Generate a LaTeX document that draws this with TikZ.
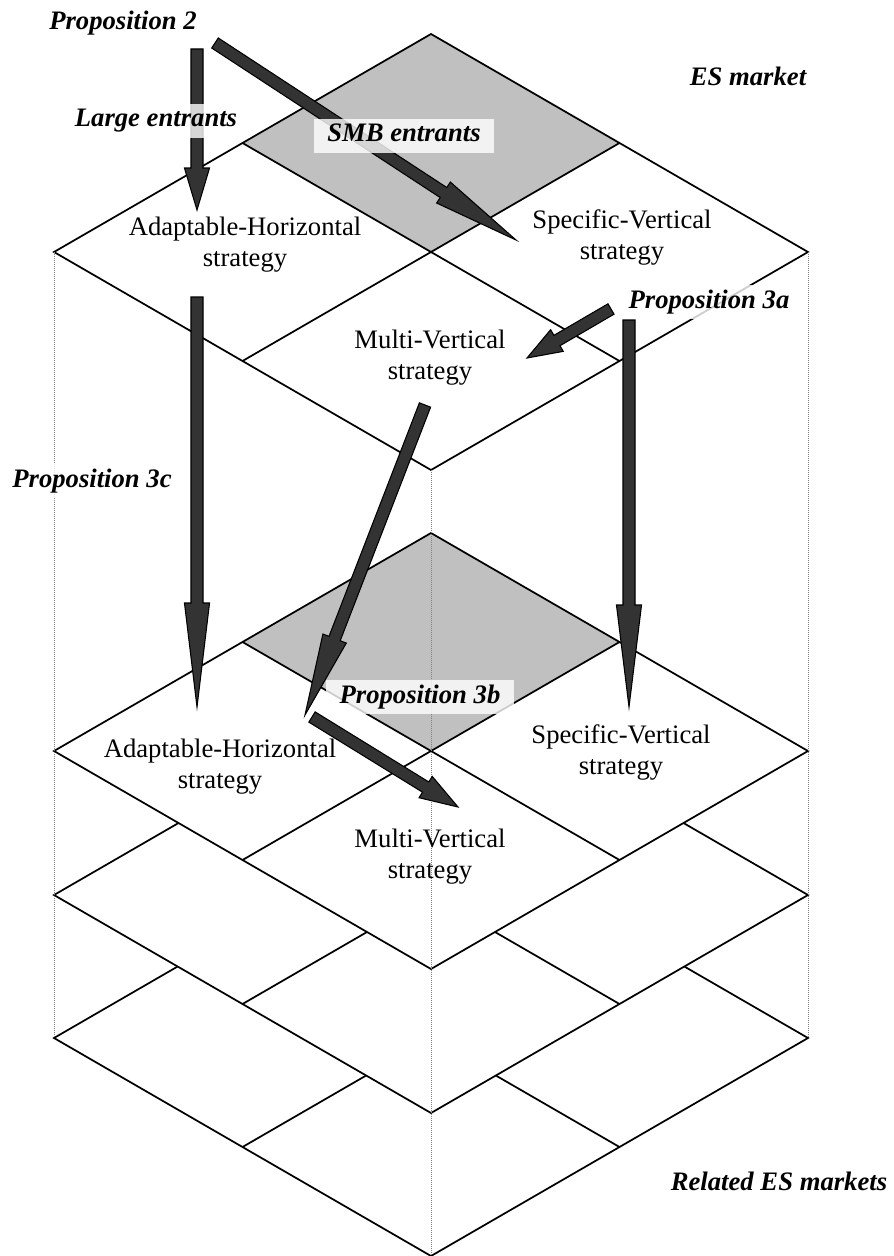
\documentclass[tikz,border=0pt]{standalone}
\usepackage{fontspec}
\setmainfont{Liberation Serif}
\usetikzlibrary{calc}
\definecolor{arrowgray}{HTML}{333333}
\definecolor{shadegray}{HTML}{C0C0C0}
\newcommand\esLayer[3]{% #1 name, #2 centre y, #3 shaded (1/0)
  \coordinate (#1L) at (54,#2);
  \coordinate (#1R) at (808,#2);
  \coordinate (#1T) at (431,{#2-218});
  \coordinate (#1B) at (431,{#2+218});
  \coordinate (#1C) at (431,#2);
  \coordinate (#1tl) at ($(#1L)!0.5!(#1T)$);
  \coordinate (#1tr) at ($(#1T)!0.5!(#1R)$);
  \coordinate (#1br) at ($(#1R)!0.5!(#1B)$);
  \coordinate (#1bl) at ($(#1B)!0.5!(#1L)$);
  \fill[white] (#1L) -- (#1T) -- (#1R) -- (#1B) -- cycle;
  \ifnum#3=1 \fill[shadegray] (#1T) -- (#1tl) -- (#1C) -- (#1tr) -- cycle;\fi
  \draw[layerline] (#1L) -- (#1T) -- (#1R) -- (#1B) -- cycle;
  \draw[layerline] (#1tl) -- (#1br);
  \draw[layerline] (#1tr) -- (#1bl);
}
\newcommand\blockarrow[3]{% start, end, head length
  \coordinate (#1-h) at ($(#2)!#3!(#1)$);
  \path[blockarrowstyle] ($(#1)!4.5pt!90:(#2)$) -- ($(#1-h)!4.5pt!90:(#2)$)
    -- ($(#1-h)!9.4pt!90:(#2)$) -- (#2) -- ($(#1-h)!9.4pt!-90:(#2)$)
    -- ($(#1-h)!4.5pt!-90:(#2)$) -- ($(#1)!4.5pt!-90:(#2)$) -- cycle;
}
\begin{document}
\begin{tikzpicture}[x=0.75pt,y=-0.75pt,
  layerline/.style={draw=black,line width=1.3pt,line join=miter},
  guide/.style={draw=gray,line width=0.5pt,densely dotted},
  blockarrowstyle/.style={draw=black,line width=0.8pt,fill=arrowgray,line join=miter},
  strat/.style={font=\fontsize{20}{23}\selectfont,align=center,anchor=base,inner sep=0pt},
  prop/.style={font=\fontsize{20}{23}\selectfont\bfseries\itshape,anchor=base,inner sep=0pt},
  propbox/.style={prop,fill=white,fill opacity=0.8,text opacity=1,inner xsep=10pt,inner ysep=3pt,text height=14pt,text depth=5pt},
]
\useasboundingbox (0,0) rectangle (893,1256);
% layers, back to front
\esLayer{d}{1038}{0}
\esLayer{c}{895}{0}
\esLayer{b}{751}{1}
\esLayer{a}{252}{1}
% dotted guides
\draw[guide] (aL) -- (dL);
\draw[guide] (aR) -- (dR);
\draw[guide] (aB) -- (dB);
% strategy texts (anchor = baseline of the second line)
\node[strat] (ah1) at (245,266) {Adaptable-Horizontal\\strategy};
\node[strat] (sv1) at (622,259) {Specific-Vertical\\strategy};
\node[strat] (mv1) at (430,379) {Multi-Vertical\\strategy};
\node[strat] (ah2) at (220,788) {Adaptable-Horizontal\\strategy};
\node[strat] (sv2) at (621,774) {Specific-Vertical\\strategy};
\node[strat] (mv2) at (430,878) {Multi-Vertical\\strategy};
% arrow end points
\coordinate (le0) at (197,49);   \coordinate (le1) at (197,210);
\coordinate (smb0) at (215,43);  \coordinate (smb1) at (516,240);
\coordinate (pc0) at (197,297);  \coordinate (pc1) at (197,707);
\coordinate (pa0) at (629,320);  \coordinate (pa1) at (629,707);
\coordinate (pd0) at (611,309);  \coordinate (pd1) at (527,358);
\coordinate (pb0) at (425,405);  \coordinate (pb1) at (305,715);
\coordinate (pe0) at (312,717);  \coordinate (pe1) at (458,807);
\blockarrow{le0}{le1}{31.5pt}
\blockarrow{smb0}{smb1}{65pt}
\blockarrow{pc0}{pc1}{78pt}
\blockarrow{pa0}{pa1}{76.5pt}
\blockarrow{pd0}{pd1}{26pt}
\blockarrow{pb0}{pb1}{61.5pt}
\blockarrow{pe0}{pe1}{28.5pt}
% labels
\node[prop] (p2) at (123,30) {Proposition 2};
\node[propbox] (large) at (156,127) {Large entrants};
\node[propbox] (smb) at (404,142) {SMB entrants};
\node[prop] (es) at (748,85) {ES market};
\node[propbox] (p3a) at (709,308) {Proposition 3a};
\node[propbox] (p3c) at (92,487) {Proposition 3c};
\node[propbox] (p3b) at (420,703) {Proposition 3b};
\node[prop] (rel) at (779,1190) {Related ES markets};
\end{tikzpicture}
\end{document}
